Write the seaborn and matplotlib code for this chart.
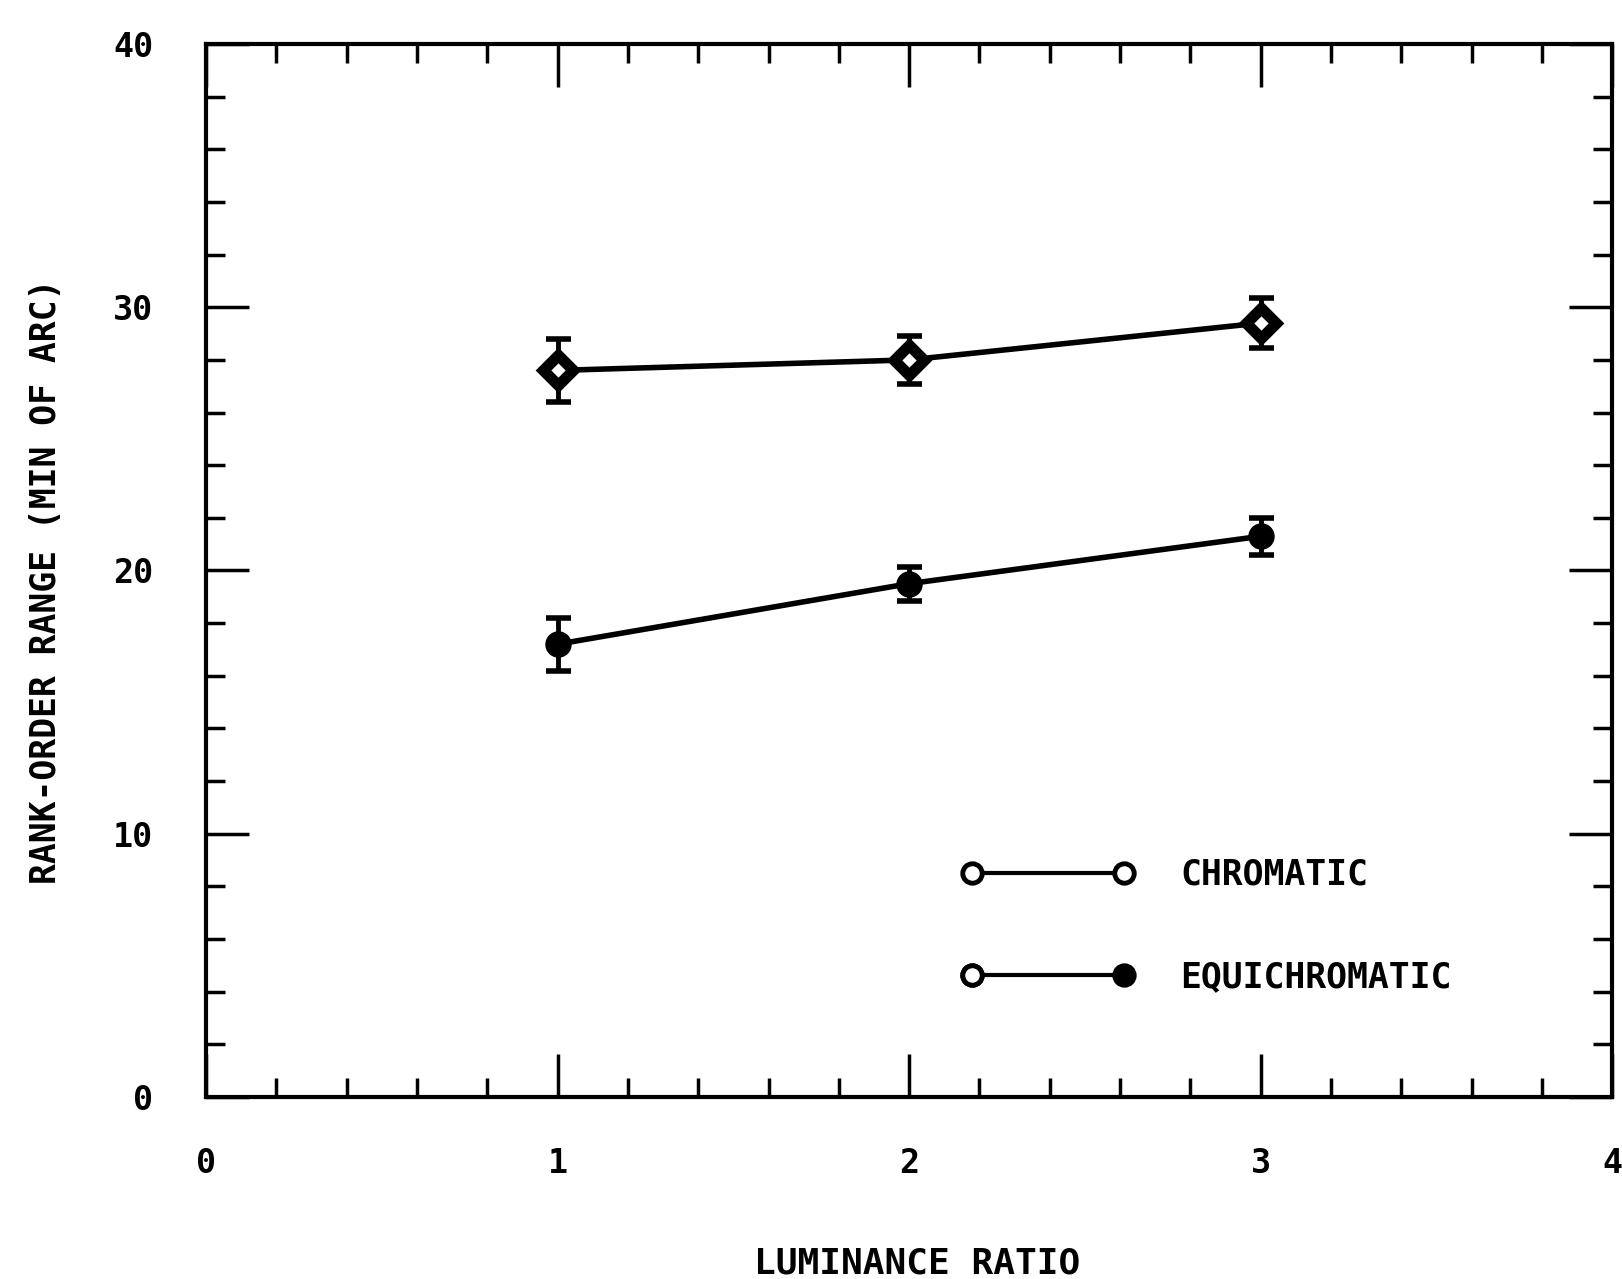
import numpy as np
import pandas as pd
import seaborn as sns
import matplotlib.pyplot as plt
from matplotlib.lines import Line2D
from matplotlib.legend_handler import HandlerLine2D
from matplotlib.ticker import MultipleLocator

# data
ratio = [1, 2, 3]
chromatic = [27.6, 28.0, 29.4]
chromatic_err = [1.2, 0.9, 0.95]
equichromatic = [17.2, 19.5, 21.3]
equichromatic_err = [1.0, 0.65, 0.7]

df = pd.DataFrame({
    'ratio': ratio * 2,
    'range': chromatic + equichromatic,
    'err': chromatic_err + equichromatic_err,
    'cond': ['CHROMATIC'] * 3 + ['EQUICHROMATIC'] * 3,
})

sns.set_style("ticks")
plt.rcParams['font.family'] = ['DejaVu Sans Mono']
plt.rcParams['font.weight'] = 'bold'
plt.rcParams['text.color'] = 'black'
plt.rcParams['axes.labelcolor'] = 'black'
plt.rcParams['xtick.color'] = 'black'
plt.rcParams['ytick.color'] = 'black'


class HandlerOpenFirst(HandlerLine2D):
    # legend line whose left end marker is always an open circle
    def create_artists(self, legend, orig_handle, xdescent, ydescent,
                       width, height, fontsize, trans):
        artists = super().create_artists(legend, orig_handle, xdescent,
                                         ydescent, width, height, fontsize,
                                         trans)
        ln = artists[0]
        extra = Line2D([ln.get_xdata()[0]], [ln.get_ydata()[0]], ls='none',
                       marker='o', mfc='white', mec='black', mew=3.5, ms=14,
                       transform=trans)
        return artists + [extra]


fig = plt.figure(figsize=(16.22, 12.79), dpi=100)
ax = fig.add_axes([0.127, 0.1423, 0.867, 0.8233])

# error bars first so the markers sit on top
for c in ['CHROMATIC', 'EQUICHROMATIC']:
    d = df[df['cond'] == c]
    ax.errorbar(d['ratio'], d['range'], yerr=d['err'], fmt='none',
                ecolor='black', elinewidth=3.5, capsize=9, capthick=4,
                zorder=1)

sns.lineplot(data=df, x='ratio', y='range', hue='cond', style='cond',
             markers={'CHROMATIC': 'D', 'EQUICHROMATIC': 'o'}, dashes=False,
             palette=['black', 'black'], linewidth=4, markersize=15,
             markeredgewidth=4, markeredgecolor='black', legend=False,
             ax=ax, zorder=3)
# small open centre for chromatic markers
ax.lines[-2].set_markerfacecolor('white')
ax.lines[-2].set_markersize(15)
ax.lines[-2].set_markeredgewidth(8)

ax.set_xlim(0, 4)
ax.set_ylim(0, 40)
ax.xaxis.set_major_locator(MultipleLocator(1))
ax.xaxis.set_minor_locator(MultipleLocator(0.2))
ax.yaxis.set_major_locator(MultipleLocator(10))
ax.yaxis.set_minor_locator(MultipleLocator(2))
ax.tick_params(which='both', direction='in', top=True, right=True,
               width=2.5, color='black')
ax.tick_params(which='major', length=31, labelsize=24)
ax.tick_params(axis='y', which='major', pad=38)
ax.tick_params(axis='x', which='major', pad=36)
ax.tick_params(which='minor', length=14)
for s in ax.spines.values():
    s.set_linewidth(3)
    s.set_color('black')

ax.set_xlabel('LUMINANCE RATIO', fontsize=26, fontweight='bold')
ax.set_ylabel('RANK-ORDER RANGE (MIN OF ARC)', fontsize=25, fontweight='bold')
ax.xaxis.set_label_coords(0.506, -0.142)
ax.yaxis.set_label_coords(-0.102, 0.49)

line = dict(color='black', lw=3, marker='o', mec='black', mew=3.5, ms=14)
chrom_h = Line2D([], [], mfc='white', **line)
equi_h = Line2D([], [], mfc='black', **line)
ax.legend([chrom_h, equi_h], ['CHROMATIC', 'EQUICHROMATIC'], loc='upper left',
          bbox_to_anchor=(0.537, 0.227), frameon=False, numpoints=2,
          handler_map={equi_h: HandlerOpenFirst()},
          handlelength=5.0, handletextpad=1.3, labelspacing=1.95,
          borderpad=0, borderaxespad=0, prop={'size': 25, 'weight': 'bold'})

fig.savefig('out.png', dpi=100)
